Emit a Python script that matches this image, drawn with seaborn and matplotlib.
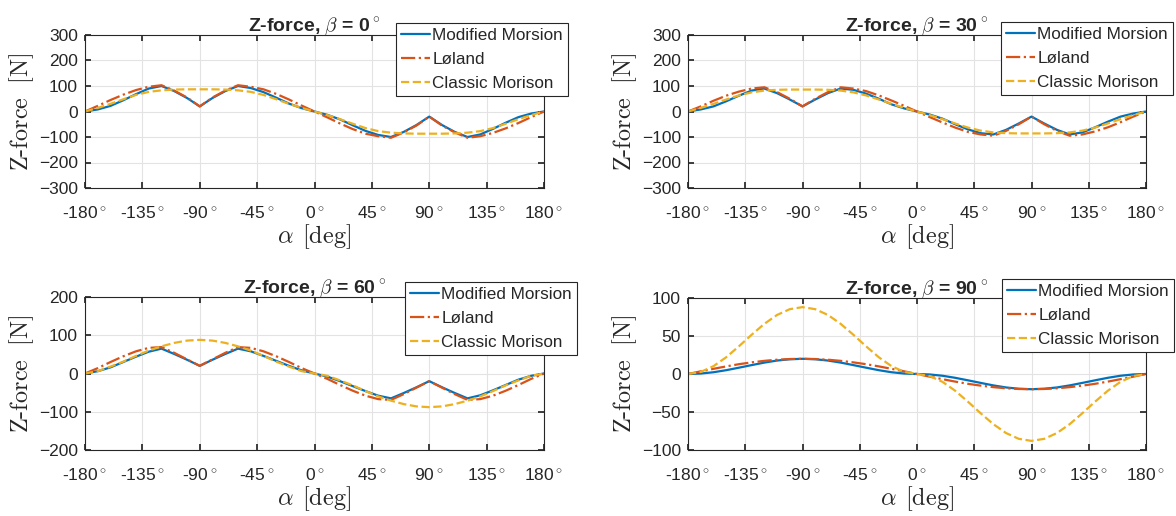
import pandas as pd
import matplotlib.pyplot as plt
import seaborn as sns

# Angle of attack samples [deg]
alpha = list(range(-180, 181, 10))

# beta = 0 deg
mod_b0 = [0, 8, 22, 44, 68, 90, 100, 80, 53, 20, 53, 80, 100, 92, 76, 54, 31, 13, 0,
          -13, -31, -54, -76, -92, -100, -80, -53, -20, -53, -80, -100, -90, -68, -44, -22, -8, 0]
lol_b0 = [0, 22, 45, 66, 84, 97, 103, 82, 55, 20, 55, 82, 103, 97, 87, 69, 47, 23, 0,
          -23, -47, -69, -87, -97, -103, -82, -55, -20, -55, -82, -103, -97, -84, -66, -45, -22, 0]
cla_b0 = [0, 14, 30, 48, 65, 77, 83, 86, 87, 87, 87, 86, 83, 77, 65, 48, 30, 14, 0,
          -14, -30, -48, -65, -77, -83, -86, -87, -87, -87, -86, -83, -77, -65, -48, -30, -14, 0]

# beta = 30 deg
mod_b30 = [0, 8, 20, 40, 62, 82, 90, 72, 47, 20, 47, 72, 90, 85, 70, 50, 28, 12, 0,
           -12, -28, -50, -70, -85, -90, -72, -47, -20, -47, -72, -90, -82, -62, -40, -20, -8, 0]
lol_b30 = [0, 20, 42, 62, 78, 90, 95, 76, 50, 20, 50, 76, 95, 90, 80, 63, 43, 22, 0,
           -22, -43, -63, -80, -90, -95, -76, -50, -20, -50, -76, -95, -90, -78, -62, -42, -20, 0]
cla_b30 = [0, 14, 30, 47, 63, 75, 82, 85, 86, 86, 86, 85, 82, 75, 63, 47, 30, 14, 0,
           -14, -30, -47, -63, -75, -82, -85, -86, -86, -86, -85, -82, -75, -63, -47, -30, -14, 0]

# beta = 60 deg
mod_b60 = [0, 6, 16, 30, 44, 57, 65, 51, 36, 20, 36, 51, 65, 58, 46, 33, 20, 8, 0,
           -8, -20, -33, -46, -58, -65, -51, -36, -20, -36, -51, -65, -57, -44, -30, -16, -6, 0]
lol_b60 = [0, 14, 30, 45, 58, 67, 69, 54, 37, 20, 37, 54, 69, 67, 58, 45, 30, 14, 0,
           -14, -30, -45, -58, -67, -69, -54, -37, -20, -37, -54, -69, -67, -58, -45, -30, -14, 0]
cla_b60 = [0, 6, 18, 31, 46, 60, 71, 80, 86, 88, 86, 80, 71, 60, 46, 31, 18, 6, 0,
           -6, -18, -31, -46, -60, -71, -80, -86, -88, -86, -80, -71, -60, -46, -31, -18, -6, 0]

# beta = 90 deg
mod_b90 = [0, 0.6, 2.3, 5, 8.3, 11.7, 15, 17.7, 19.4, 20, 19.4, 17.7, 15, 11.7, 8.3, 5, 2.3, 0.6, 0,
           -0.6, -2.3, -5, -8.3, -11.7, -15, -17.7, -19.4, -20, -19.4, -17.7, -15, -11.7, -8.3, -5, -2.3, -0.6, 0]
lol_b90 = [0, 3.5, 6.8, 10, 12.9, 15.3, 17.3, 18.8, 19.7, 20, 19.7, 18.8, 17.3, 15.3, 12.9, 10, 6.8, 3.5, 0,
           -3.5, -6.8, -10, -12.9, -15.3, -17.3, -18.8, -19.7, -20, -19.7, -18.8, -17.3, -15.3, -12.9, -10, -6.8, -3.5, 0]
cla_b90 = [0, 2.7, 10.3, 22, 36.4, 51.6, 66, 77.7, 85.3, 88, 85.3, 77.7, 66, 51.6, 36.4, 22, 10.3, 2.7, 0,
           -2.7, -10.3, -22, -36.4, -51.6, -66, -77.7, -85.3, -88, -85.3, -77.7, -66, -51.6, -36.4, -22, -10.3, -2.7, 0]

betas = [0, 30, 60, 90]
series = {0: (mod_b0, lol_b0, cla_b0), 30: (mod_b30, lol_b30, cla_b30),
          60: (mod_b60, lol_b60, cla_b60), 90: (mod_b90, lol_b90, cla_b90)}
ylims = {0: (-300, 300, 100), 30: (-300, 300, 100), 60: (-200, 200, 100), 90: (-100, 100, 50)}
names = ['Modified Morsion', 'Løland', 'Classic Morison']
xticks = list(range(-180, 181, 45))

colors = ['#0072BD', '#D95319', '#EDB120']
styles = ['-', '-.', '--']

sns.set_theme(style="whitegrid")
plt.rcParams.update({'font.family': ['Liberation Sans', 'DejaVu Sans'], 'mathtext.fontset': 'cm',
                     'grid.color': '#e3e3e3', 'grid.linewidth': 0.8,
                     'axes.edgecolor': '#262626', 'axes.linewidth': 0.8,
                     'xtick.direction': 'in', 'ytick.direction': 'in',
                     'xtick.major.size': 4, 'ytick.major.size': 4,
                     'xtick.bottom': True, 'ytick.left': True,
                     'xtick.color': '#262626', 'ytick.color': '#262626'})

fig = plt.figure(figsize=(11.76, 5.16), dpi=100)
W, H = 1176, 516
# axes boxes in pixels: left, top, right, bottom; legend upper-right corner in pixels
boxes = [(85, 35, 544, 188), (688, 35, 1146, 188), (85, 297, 544, 450), (688, 298, 1146, 450)]
leg_corner = [(568, 23), (1173, 22), (577, 282), (1174, 279)]

for b, (l, t, r, btm), (lx, ly) in zip(betas, boxes, leg_corner):
    ax = fig.add_axes([l / W, 1 - btm / H, (r - l) / W, (btm - t) / H])
    for vals, name, c, ls in zip(series[b], names, colors, styles):
        df = pd.DataFrame({'alpha': alpha, 'F': vals})
        sns.lineplot(data=df, x='alpha', y='F', ax=ax, color=c, linestyle=ls,
                     linewidth=1.6, label=name)
    lo, hi, step = ylims[b]
    ax.set_xlim(-180, 180)
    ax.set_ylim(lo, hi)
    ax.set_yticks(list(range(lo, hi + 1, step)))
    ax.set_xticks(xticks)
    ax.set_xticklabels([f'{v}$^\\circ$' for v in xticks])
    ax.tick_params(labelsize=12.5, top=True, right=True)
    ax.tick_params(axis='x', pad=13)
    ax.tick_params(axis='y', pad=5)
    ax.set_xlabel(r'$\alpha\;\,[\mathrm{deg}]$', fontsize=17.5, labelpad=0)
    ax.set_ylabel(r'Z-force $\;$[N]', fontname='cmr10', fontsize=17.5, labelpad=2)
    ax.set_title(f'Z-force, $\\beta$ = {b}$^\\circ$', fontsize=14, fontweight='bold', pad=3)
    anc = ((lx - l) / (r - l), (btm - ly) / (btm - t))
    leg = ax.legend(loc='upper right', bbox_to_anchor=anc, fontsize=12.3, frameon=True,
                    fancybox=False, framealpha=1, edgecolor='#262626', borderpad=0.3,
                    handlelength=1.7, handletextpad=0.15, labelspacing=0.52, borderaxespad=0)
    leg.get_frame().set_linewidth(0.8)

fig.savefig('out.png', dpi=100)
